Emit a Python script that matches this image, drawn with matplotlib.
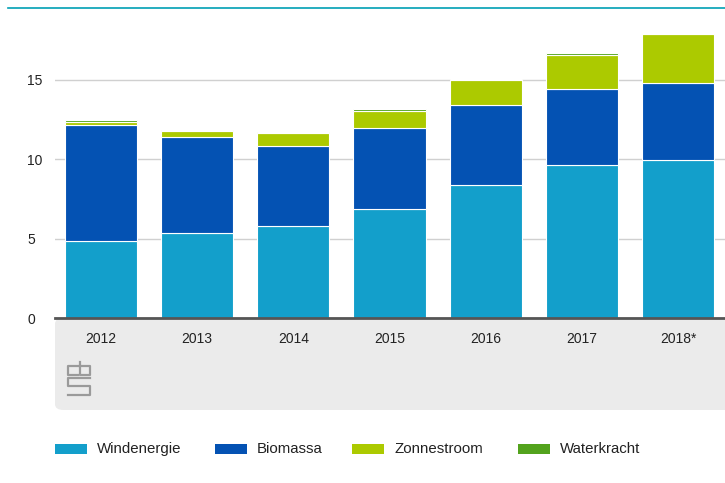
import numpy as np
import matplotlib
matplotlib.use('Agg')
import matplotlib.pyplot as plt
from matplotlib.patches import FancyBboxPatch, Rectangle
from matplotlib.lines import Line2D

plt.rcParams['font.family'] = ['Liberation Sans', 'DejaVu Sans']

# data (approximate)
years = ['2012', '2013', '2014', '2015', '2016', '2017', '2018*']
wind = [4.85, 5.35, 5.8, 6.87, 8.38, 9.64, 9.96]
biomass = [7.3, 6.05, 5.05, 5.1, 5.04, 4.79, 4.84]
solar = [0.2, 0.38, 0.8, 1.07, 1.58, 2.14, 3.1]
hydro = [0.12, 0.05, 0.04, 0.12, 0.03, 0.12, 0.0]
series_names = ['Windenergie', 'Biomassa', 'Zonnestroom', 'Waterkracht']
colors = ['#139fcb', '#0452b3', '#acca00', '#53a31d']
yticks = [0, 5, 10, 15]

fig = plt.figure(figsize=(7.25, 4.83), dpi=100)
W, H = 725, 483

def fx(px):
    return px / W

def fy(py):
    return 1 - py / H

# teal line at top
fig.add_artist(Line2D([fx(8), 1], [fy(8), fy(8)], color='#00a0b4', lw=1.2))

# grey panel under the axis
panel = FancyBboxPatch((fx(55), fy(410)), fx(725) - fx(55) + 0.02, fy(318) - fy(410),
                       boxstyle='round,pad=0,rounding_size=0.012',
                       transform=fig.transFigure, facecolor='#ebebeb', edgecolor='none', zorder=0)
fig.add_artist(panel)

ax = fig.add_axes([fx(55), fy(318), 1 - fx(55), fy(29) - fy(318)])
ax.set_facecolor('none')
x = np.arange(len(years))
bottom = np.zeros(len(years))
for vals, name, c in zip([wind, biomass, solar, hydro], series_names, colors):
    ax.bar(x, vals, 0.75, bottom=bottom, color=c, edgecolor='white', linewidth=0.8, label=name, zorder=3)
    bottom += np.array(vals)

ax.set_xlim(-0.478, 6.487)
ax.set_ylim(0, 18.2)
ax.set_yticks(yticks)
ax.set_yticklabels([str(t) for t in yticks], fontsize=10, color='#222222')
for lab in ax.get_yticklabels():
    lab.set_horizontalalignment('left')
ax.tick_params(axis='y', length=0, pad=20)
ax.set_xticks(x)
ax.set_xticklabels(years, fontsize=10, color='#222222')
ax.tick_params(axis='x', length=0, pad=10)
ax.grid(axis='y', color='#d0d0d0', lw=1, zorder=0)
for s in ['top', 'right', 'left']:
    ax.spines[s].set_visible(False)
ax.spines['bottom'].set_color('#555555')
ax.spines['bottom'].set_linewidth(2)
ax.spines['bottom'].set_zorder(5)

# crude cbs logo
lc = '#9a9a9a'
logo = [
    [(78, 366), (68, 366), (68, 375), (78, 375)],                       # c
    [(80, 362), (80, 375), (90, 375), (90, 366), (80, 366)],            # b
    [(90, 378), (68, 378), (68, 386), (90, 386), (90, 395), (68, 395)], # s
]
for pts in logo:
    xs = [fx(p[0]) for p in pts]
    ys = [fy(p[1]) for p in pts]
    fig.add_artist(Line2D(xs, ys, color=lc, lw=1.6))

# legend
lx = [55, 215, 352, 518]
for px, name, c in zip(lx, series_names, colors):
    fig.add_artist(Rectangle((fx(px), fy(454)), fx(32), fy(0) - fy(10), transform=fig.transFigure,
                             facecolor=c, edgecolor='none'))
    fig.text(fx(px + 42), fy(449), name, fontsize=10.8, va='center', ha='left', color='#222222')

fig.savefig('out.png', dpi=100)
